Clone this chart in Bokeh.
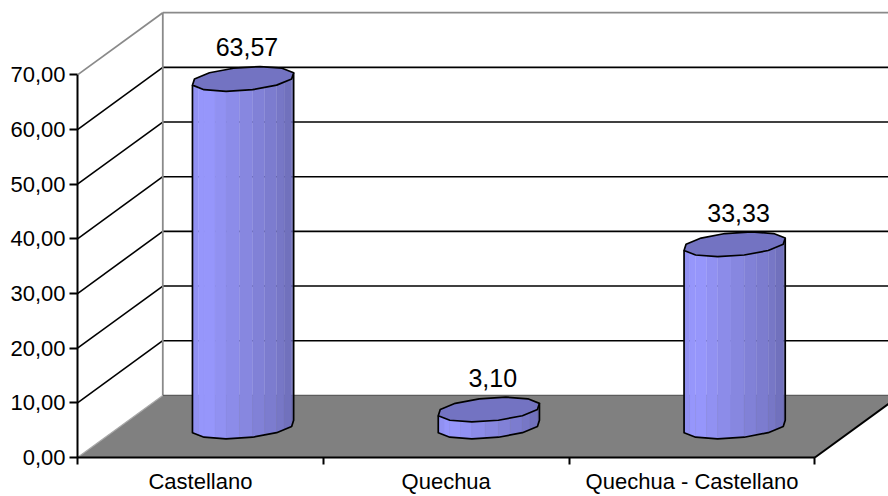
import numpy as np
from bokeh.plotting import figure
from bokeh.models import Range1d, FixedTicker, CustomJSTickFormatter
from bokeh.embed import file_html
from bokeh.resources import INLINE
from bokeh.core.properties import value

# ---- data -------------------------------------------------------------
categories = ["Castellano", "Quechua", "Quechua - Castellano"]
percentages = [63.57, 3.10, 33.33]
y_ticks = [0, 10, 20, 30, 40, 50, 60, 70]

# ---- 3D look: oblique projection of (category, depth, value) ---------
CAT_PX = 245.8            # screen pixels per category slot
VAL_PX = 5.514            # screen pixels per value unit
DEPTH_PX = (85.3, 62.7)   # screen offset of the back wall
DX = DEPTH_PX[0] / CAT_PX
DY = DEPTH_PX[1] / VAL_PX


def proj(xc, d, v):
    """(category coord, depth 0..1, value) -> plot data coords."""
    return xc + DX * d, v + DY * d


n_cat = len(categories)
y_top = y_ticks[-1]

W, H = 888, 496
LEFT_PX, AXIS_X_PX = 69, 77       # frame left edge / front wall edge
AXIS_Y_PX, BOTTOM_PX = 461, 468   # front floor edge / frame bottom
x_start = -(AXIS_X_PX - LEFT_PX) / CAT_PX
x_end = x_start + (W - LEFT_PX) / CAT_PX
y_start = -(BOTTOM_PX - AXIS_Y_PX) / VAL_PX
y_end = y_start + BOTTOM_PX / VAL_PX

FONT = "Liberation Sans"

p = figure(width=W, height=H, x_range=Range1d(x_start, x_end),
           y_range=Range1d(y_start, y_end), output_backend="svg",
           toolbar_location=None, min_border_left=LEFT_PX, min_border_right=0,
           min_border_top=0, min_border_bottom=H - BOTTOM_PX)
p.grid.visible = False
p.outline_line_color = None
p.background_fill_color = "white"
p.border_fill_color = "white"

# value axis (front-left edge)
ya = p.yaxis[0]
ya.ticker = FixedTicker(ticks=y_ticks, minor_ticks=[])
ya.formatter = CustomJSTickFormatter(code="return tick.toFixed(2).replace('.', ',');")
ya.axis_line_color = None
ya.major_tick_in = AXIS_X_PX - LEFT_PX
ya.major_tick_out = 0
ya.minor_tick_in = 0
ya.minor_tick_out = 0
ya.major_tick_line_color = "black"
ya.major_tick_line_width = 2
ya.major_label_standoff = 4
ya.major_label_text_font = FONT
ya.major_label_text_font_size = "22px"
ya.major_label_text_color = "black"

# category axis (front floor edge)
xa = p.xaxis[0]
xa.ticker = FixedTicker(ticks=[i + 0.5 for i in range(n_cat)],
                        minor_ticks=list(range(n_cat + 1)))
xa.formatter = CustomJSTickFormatter(args=dict(labels=categories),
                                     code="return labels[Math.round(tick - 0.5)];")
xa.axis_line_color = None
xa.major_tick_in = 0
xa.major_tick_out = 0
xa.minor_tick_in = BOTTOM_PX - AXIS_Y_PX
xa.minor_tick_out = 0
xa.minor_tick_line_color = "black"
xa.minor_tick_line_width = 2
xa.major_label_standoff = 4
xa.major_label_text_font = FONT
xa.major_label_text_font_size = "22px"
xa.major_label_text_color = "black"

# ---- walls --------------------------------------------------------------
grid_vals = [v for v in y_ticks if 0 < v < y_top]

# back wall gridlines
bx, by = [], []
for v in grid_vals:
    a, b = proj(0, 1, v), proj(n_cat, 1, v)
    bx.append([a[0], b[0]]); by.append([a[1], b[1]])
p.multi_line(bx, by, line_color="black", line_width=1.6)

# side wall gridlines
sx, sy = [], []
for v in grid_vals:
    a, b = proj(0, 0, v), proj(0, 1, v)
    sx.append([a[0], b[0]]); sy.append([a[1], b[1]])
p.multi_line(sx, sy, line_color="black", line_width=1.6)

# wall borders (grey)
edges = [(proj(0, 0, y_top), proj(0, 1, y_top)),
         (proj(0, 1, y_top), proj(n_cat, 1, y_top)),
         (proj(0, 1, 0), proj(0, 1, y_top))]
p.multi_line([[a[0], b[0]] for a, b in edges], [[a[1], b[1]] for a, b in edges],
             line_color="#8a8a8a", line_width=1.8)

# floor
fl = [proj(0, 0, 0), proj(n_cat, 0, 0), proj(n_cat, 1, 0), proj(0, 1, 0)]
p.patch([q[0] for q in fl], [q[1] for q in fl], fill_color="#808080", line_color=None)
p.line([fl[3][0], fl[2][0]], [fl[3][1], fl[2][1]], line_color="#5c5c5c", line_width=1.4)
p.line([fl[0][0], fl[3][0]], [fl[0][1], fl[3][1]], line_color="#a8a8a8", line_width=1.2)
p.line([fl[1][0], fl[2][0]], [fl[1][1], fl[2][1]], line_color="black", line_width=2)
p.line([fl[0][0], fl[1][0]], [fl[0][1], fl[1][1]], line_color="black", line_width=2)

# front value-axis edge
a, b = proj(0, 0, 0), proj(0, 0, y_top)
p.line([a[0], b[0]], [a[1], b[1]], line_color="black", line_width=2)

# ---- cylinders (12-sided prisms, each face shaded in two bands) -----------
N_SIDES = 12
BANDS = 2
R_X = 48.6 / CAT_PX
R_D = 12.5 / DEPTH_PX[1]
BASE_RGB = np.array([153, 153, 255])
TOP_COLOR = "#7373c2"
angles = 2 * np.pi * np.arange(N_SIDES) / N_SIDES


def shade(theta_deg):
    t = theta_deg % 360
    if t < 180:
        t += 360
    if t <= 240:
        f = 1.0 - 0.07 * (240 - t) / 30
    else:
        f = 1.0 - 0.31 * min(1.0, (t - 240) / 135)
    r, g, b = (BASE_RGB * f).round().astype(int)
    return f"#{r:02x}{g:02x}{b:02x}"


for i, val in enumerate(percentages):
    cx = i + 0.5
    ring = [(cx + R_X * np.cos(t), 0.5 + R_D * np.sin(t)) for t in angles]
    bot = [proj(xc, d, 0) for xc, d in ring]
    top = [proj(xc, d, val) for xc, d in ring]
    xs_b = np.array([q[0] for q in bot])
    k_min, k_max = int(np.argmin(xs_b)), int(np.argmax(xs_b))
    # near side: from the leftmost vertex round the front to the rightmost
    arc = [k_min]
    k = k_min
    while k != k_max:
        k = (k + 1) % N_SIDES
        arc.append(k)
    fx, fy, fc = [], [], []
    for k0, k1 in zip(arc[:-1], arc[1:]):
        a0 = angles[k0]
        a1 = angles[k1] + (2 * np.pi if k1 < k0 else 0)
        b0, b1 = np.array(bot[k0]), np.array(bot[k1])
        t0, t1 = np.array(top[k0]), np.array(top[k1])
        for s in range(BANDS):
            u0, u1 = s / BANDS, (s + 1) / BANDS
            quad = [b0 + (b1 - b0) * u0, b0 + (b1 - b0) * u1,
                    t0 + (t1 - t0) * u1, t0 + (t1 - t0) * u0]
            fx.append([q[0] for q in quad]); fy.append([q[1] for q in quad])
            fc.append(shade(np.degrees(a0 + (a1 - a0) * (u0 + u1) / 2)))
    p.patches(fx, fy, fill_color=fc, line_color=fc, line_width=0.3)
    # silhouette outline
    ox = [top[k_min][0]] + [bot[k][0] for k in arc] + [top[k_max][0]]
    oy = [top[k_min][1]] + [bot[k][1] for k in arc] + [top[k_max][1]]
    p.line(ox, oy, line_color="black", line_width=1.7, line_join="round")
    # top face
    p.patch([q[0] for q in top], [q[1] for q in top], fill_color=TOP_COLOR,
            line_color="black", line_width=1.7, line_join="round")

# ---- value labels ---------------------------------------------------------
lab_x = [proj(i + 0.5, 0.5, 0)[0] + 0.016 for i in range(n_cat)]
lab_y = [proj(0, 0.5, v)[1] + 5.8 for v in percentages]
lab_t = [f"{v:.2f}".replace(".", ",") for v in percentages]
p.text(lab_x, lab_y, text=lab_t, text_align="center", text_baseline="middle",
       text_font=value(FONT), text_font_size="25px", text_color="black")

open("out.html", "w").write(file_html(p, INLINE))
